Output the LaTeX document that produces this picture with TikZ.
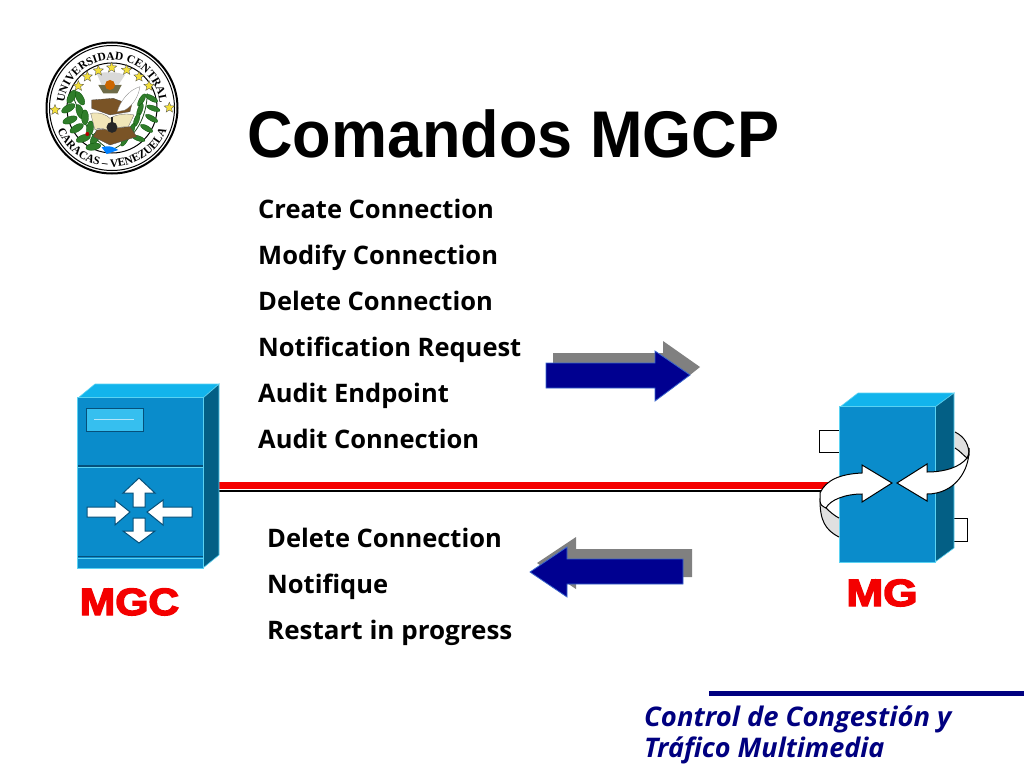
\documentclass[tikz,border=0pt]{standalone}
\usepackage{fontspec}
\setmainfont{Liberation Sans}
\newfontfamily\bodyf{Open Sans}
\newfontfamily\heavyf[FakeBold=3.5]{Liberation Sans Bold}
\newfontfamily\logof{Liberation Serif}
\usetikzlibrary{decorations.text,shapes.geometric}
\definecolor{cfront}{HTML}{0A8CCB}
\definecolor{ctop}{HTML}{12B4EC}
\definecolor{cside}{HTML}{035F85}
\definecolor{cedge}{HTML}{5AD2F2}
\definecolor{cdark}{HTML}{06507A}
\definecolor{navyb}{HTML}{000090}
\definecolor{navyt}{HTML}{000080}
\definecolor{arrowedge}{HTML}{3A66CC}
\definecolor{sred}{HTML}{F40000}
\definecolor{logogreen}{HTML}{2F7D2A}
\definecolor{logobrown}{HTML}{7A5426}
\definecolor{logocream}{HTML}{F1E6B8}
\definecolor{logostar}{HTML}{F3DF3A}
\tikzset{
  titletext/.style={anchor=base west,inner sep=0,xscale=.955,font=\fontsize{66}{66}\selectfont\bfseries},
  listtext/.style={anchor=base west,inner sep=0,font=\bodyf\fontsize{25.5}{25.5}\selectfont\bfseries},
  foottext/.style={anchor=base west,inner sep=0,text=navyt,font=\bodyf\fontsize{27}{27}\selectfont\bfseries\itshape},
  devlabel/.style={anchor=base,inner sep=0,text=sred,font=\heavyf\fontsize{38}{38}\selectfont},
  frontface/.style={draw=cedge,line width=1pt,fill=cfront,inner sep=0,rectangle},
  topface/.style={fill=ctop,draw=cedge,line width=.6pt},
  sideface/.style={fill=cside,draw=cedge,line width=.6pt},
  whitearrow/.style={fill=white,draw=cdark,line width=1pt,line join=miter},
  turnarrow/.style={fill=white,draw=black,line width=1pt,line join=miter},
  turnback/.style={fill=black!12,draw=black,line width=1pt},
  bigarrow/.style={fill=navyb,draw=arrowedge,line width=.8pt},
  shadowarrow/.style={fill=black!50},
  redwire/.style={draw=sred,line width=7pt},
  blackwire/.style={draw=black,line width=2pt},
  logoleaf/.style={fill=logogreen,draw=black!70!green,line width=.25pt},
  logostarst/.style={star,star points=5,star point ratio=2.3,fill=logostar,draw=black!70,line width=.3pt,minimum size=11pt,inner sep=0},
}
\begin{document}
\begin{tikzpicture}[x=1pt,y=-1pt]
\useasboundingbox (0,0) rectangle (1024,768);
\fill[white] (0,0) rectangle (1024,768);

% ---------- logo
\draw[line width=2pt] (112,108) circle (65.5);
\draw[line width=1pt] (112,108) circle (62.5);
\draw[line width=1pt] (112,108) circle (45);
\begin{scope}[shift={(112,108)},y=1pt]
\path[postaction={decorate,decoration={text along path,text align=center,
  text={|\logof\fontsize{11.5}{11.5}\selectfont\bfseries|UNIVERSIDAD   CENTRAL}}}]
  (215:48) arc[start angle=215,end angle=-35,radius=48];
\path[postaction={decorate,decoration={text along path,text align=center,
  text={|\logof\fontsize{11.5}{11.5}\selectfont\bfseries|CARACAS  –  VENEZUELA}}}]
  (165:59) arc[start angle=165,end angle=375,radius=59];
\end{scope}
\begin{scope}[shift={(30,30)},x=.3333pt,y=-.3333pt]
  % left branch
  \draw[logogreen!60!black,line width=.8pt] (125,190) .. controls (150,250) and (170,310) .. (225,350);
  \foreach \px/\py/\ra in {125/200/60,150/205/120,115/235/30,150/245/110,120/270/20,165/262/90,140/295/30,180/295/80,160/325/20,195/325/60,190/350/10}
    \fill[logoleaf] (\px,\py) ellipse[x radius=7.5pt,y radius=3.5pt,rotate=\ra];
  \fill[red!70!black] (172,312) circle (2pt);
  % right palm
  \draw[logogreen!60!black,line width=.8pt] (352,190) .. controls (350,260) and (320,320) .. (255,355);
  \foreach \px/\py/\ra in {365/205/-30,335/210/60,370/235/-20,330/240/70,365/265/-30,320/270/70,350/295/-30,305/300/70,325/325/-20,285/330/60}
    \fill[logoleaf] (\px,\py) ellipse[x radius=7pt,y radius=2.5pt,rotate=\ra];
  % flame
  \fill[black!65!yellow] (205,165) -- (275,165) -- (262,190) -- (220,190) -- cycle;
  \fill[black!15] (200,130) .. controls (230,125) and (265,125) .. (285,135) -- (265,165) -- (215,165) -- cycle;
  \fill[orange!80!black] (240,165) ellipse[x radius=5pt,y radius=5pt];
  % books
  \fill[logobrown,draw=black!70,line width=.3pt] (185,210) -- (250,205) -- (305,225) -- (300,245) -- (240,255) -- (185,235) -- cycle;
  % quill
  \fill[white,draw=black!50,line width=.3pt] (330,170) .. controls (295,180) and (270,215) .. (262,245) -- (285,240) .. controls (310,225) and (325,200) .. (330,170) -- cycle;
  % open book
  \fill[logobrown,draw=black!70,line width=.3pt] (200,300) -- (300,290) -- (320,320) -- (240,345) -- (190,320) -- cycle;
  \fill[logocream,draw=black!60,line width=.3pt] (182,250) .. controls (210,245) and (230,255) .. (240,265) .. controls (255,255) and (285,248) .. (312,255) -- (295,290) .. controls (270,290) and (250,295) .. (240,305) .. controls (225,295) and (205,290) .. (195,300) -- cycle;
  \fill[black!85] (246,292) ellipse[x radius=5.5pt,y radius=5.5pt];
  \fill[black!85] (243,262) rectangle (250,285);
  % water
  \fill[blue!50!cyan] (215,352) .. controls (235,345) and (250,350) .. (265,360) -- (230,372) -- cycle;
  % stars
  \foreach \sx/\sy [count=\si] in {75/240,145/168,172/140,205/122,245/113,290/120,327/140,357/168,418/233}
    \node[logostarst] (star\si) at (\sx,\sy) {};
\end{scope}

% ---------- title and lists
\node[titletext] (title) at (247,157) {Comandos MGCP};
\node[listtext] (l1) at (258,218) {Create Connection};
\node[listtext] (l2) at (258,264) {Modify Connection};
\node[listtext] (l3) at (258,310) {Delete Connection};
\node[listtext] (l4) at (258,356) {Notification Request};
\node[listtext] (l5) at (258,402) {Audit Endpoint};
\node[listtext] (l6) at (258,448) {Audit Connection};
\node[listtext] (m1) at (267,547) {Delete Connection};
\node[listtext] (m2) at (267,593) {Notifique};
\node[listtext,xscale=1.02] (m3) at (267,639) {Restart in progress};

% ---------- device nodes (front faces named for the wire)
\node[frontface,minimum width=125pt,minimum height=170pt] (mgc) at (140.5,483) {};
\node[frontface,draw=none,minimum width=95pt,minimum height=155pt] (mg) at (887.5,484.5) {};
\coordinate (wireR) at (0,485.5);
\coordinate (wireK) at (0,490.5);
\draw[blackwire] (mgc.east |- wireK) -- (mg.west |- wireK);
\draw[redwire] (mgc.east |- wireR) -- (mg.west |- wireR);

% MGC
\fill[topface] (78,398) -- (95,384) -- (219,384) -- (203,398) -- cycle;
\fill[sideface] (203,398) -- (219,384) -- (219,555) -- (203,568) -- cycle;
\draw[frontface] (mgc.south west) rectangle (mgc.north east);
\draw[cdark,line width=1.3pt] (78,466) -- (203,466);
\draw[cedge,line width=.6pt] (78,467.5) -- (203,467.5);
\draw[cdark,line width=1.3pt] (78,556.5) -- (203,556.5);
\draw[cedge,line width=.6pt] (78,558) -- (203,558);
\fill[ctop!85!white,draw=cdark,line width=.5pt] (86,408) rectangle (143,431);
\draw[white!70!cyan,line width=1.2pt] (94,419.5) -- (134,419.5);
\draw[whitearrow] (87,507) -- (115,507) -- (115,500) -- (130,512) -- (115,525) -- (115,517) -- (87,517) -- cycle;
\draw[whitearrow] (192,507) -- (163,507) -- (163,500) -- (147,512) -- (163,525) -- (163,517) -- (192,517) -- cycle;
\draw[whitearrow] (133,507) -- (133,493) -- (123,493) -- (139,478) -- (155,493) -- (145,493) -- (145,507) -- cycle;
\draw[whitearrow] (133,518) -- (133,531) -- (123,531) -- (139,543) -- (155,531) -- (145,531) -- (145,518) -- cycle;
\node[devlabel,xscale=1.12] (mgclab) at (129.5,615) {MGC};

% MG small boxes
\draw[black,line width=.8pt,fill=white] (840,430) -- (819,430) -- (819,452) -- (840,452);
\draw[black,line width=.8pt,fill=white] (954,518) -- (967,518) -- (967,541) -- (954,541);
% MG body
\fill[topface] (840,407) -- (858,393) -- (954,393) -- (935,407) -- cycle;
\fill[sideface] (935,407) -- (954,393) -- (954,548) -- (935,562) -- cycle;
\draw[frontface] (mg.south west) rectangle (mg.north east);
% rotating arrows, undersides
\draw[turnback] (839,537) .. controls (825,530) and (820,520) .. (820,500) -- (826,508) .. controls (830,512) and (835,516) .. (839,518);
\draw[turnback] (955,432) .. controls (965,437) and (969,445) .. (969,455) -- (967,458) .. controls (963,455) and (960,451) .. (955,448);
% rotating arrows, faces
\draw[turnarrow] (892,483) -- (862,465) -- (862,473) .. controls (840,474) and (826,480) .. (820,493) -- (820,500) .. controls (820,505) and (822,506) .. (826,508) .. controls (830,500) and (845,494) .. (862,494) -- (862,502) -- cycle;
\draw[turnarrow] (897,483) -- (927,464) -- (927,472) .. controls (945,472) and (960,467) .. (967,458) .. controls (969,455) and (969,450) .. (969,448) .. controls (970,470) and (955,494) .. (927,494) -- (927,501) -- cycle;
\node[devlabel,xscale=1.16] (mglab) at (882,606) {MG};

% big arrows
\fill[shadowarrow] (553,353) -- (663,353) -- (663,341) -- (700,367) -- (690,375) -- (655,375) -- (553,375) -- cycle;
\draw[bigarrow] (546,363) -- (655,363) -- (655,351) -- (690,375) -- (655,401) -- (655,388) -- (546,388) -- cycle;
\fill[shadowarrow] (692,549) -- (576,549) -- (576,537) -- (537,563) -- (576,589) -- (576,577) -- (692,577) -- cycle;
\draw[bigarrow] (683,559) -- (567,559) -- (567,547) -- (530,572) -- (567,597) -- (567,584) -- (683,584) -- cycle;

% footer
\coordinate (ruleL) at (709,693.5);
\coordinate (ruleR) at (1024,693.5);
\draw[navyt,line width=5pt] (ruleL) -- (ruleR);
\node[foottext,xscale=1.015] (f1) at (644,726) {Control de Congestión y};
\node[foottext] (f2) at (644,757) {Tráfico Multimedia};
\end{tikzpicture}
\end{document}
